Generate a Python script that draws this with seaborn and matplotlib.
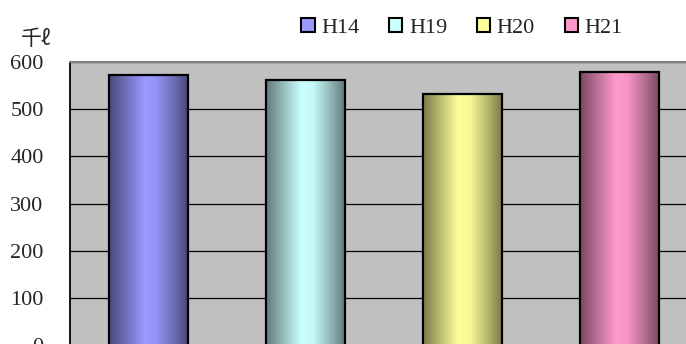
import numpy as np
import pandas as pd
import matplotlib
matplotlib.use("Agg")
import matplotlib.pyplot as plt
from matplotlib.patches import Patch
from matplotlib.colors import to_rgb
import seaborn as sns

# data
categories = ["H14", "H19", "H20", "H21"]
values = [572, 561, 533, 579]
bar_colors = ["#9999FF", "#CCFFFF", "#FFFF99", "#FF99CC"]
yticks = [0, 100, 200, 300, 400, 500, 600]
unit_label = "千ℓ"

sns.set_theme(style="white")
plt.rcParams["font.family"] = ["Liberation Serif", "Noto Sans CJK JP", "DejaVu Sans"]

fig = plt.figure(figsize=(6.86, 3.44), dpi=100)
ax = fig.add_axes([70 / 686, -1.2 / 344, 628 / 686, 283.2 / 344])
ax.set_facecolor("#C0C0C0")

df = pd.DataFrame({"cat": categories, "val": values})
sns.barplot(data=df, x="cat", y="val", hue="cat", palette=bar_colors,
            width=0.5, edgecolor="black", linewidth=1.6, legend=False,
            ax=ax, zorder=3)

ax.set_xlim(-0.5, 3.5)
ax.set_ylim(0, 600)
ax.set_yticks(yticks)
ax.set_yticklabels([str(t) for t in yticks], fontsize=16)
ax.tick_params(axis="y", direction="in", length=6, width=1.0, color="black", pad=19)
ax.set_xticks([])
ax.set_xlabel("")
ax.set_ylabel("")
ax.grid(axis="y", color="black", linewidth=0.9, zorder=1)
ax.set_axisbelow(True)

for s in ["right", "bottom"]:
    ax.spines[s].set_visible(False)
ax.spines["left"].set_color("black")
ax.spines["left"].set_linewidth(1.3)
ax.spines["top"].set_color("#808080")
ax.spines["top"].set_linewidth(1.5)

# cylinder-like horizontal shading inside each bar
tt = np.linspace(0, 1, 200)
shade = np.interp(tt, [0, 0.12, 0.45, 0.6, 0.85, 1.0],
                  [0.48, 0.62, 1.0, 0.97, 0.68, 0.48])
for patch, col in zip(ax.patches, bar_colors):
    rgb = np.array(to_rgb(col))
    img = (shade[:, None] * rgb[None, :])[None, :, :]
    x0, y0 = patch.get_x(), patch.get_y()
    w, h = patch.get_width(), patch.get_height()
    im = ax.imshow(img, extent=[x0, x0 + w, y0, y0 + h], aspect="auto",
                   zorder=3.5, interpolation="bilinear")
    im.set_clip_path(patch)
    patch.set_facecolor("none")
    patch.set_zorder(4)

ax.set_xlim(-0.5, 3.5)
ax.set_ylim(0, 600)

handles = [Patch(facecolor=c, edgecolor="black", linewidth=1.5) for c in bar_colors]
fig.legend(handles, categories, loc="center", bbox_to_anchor=(462 / 686, 1 - 28 / 344),
           ncol=4, frameon=False, fontsize=16, handlelength=0.6, handleheight=0.6,
           handletextpad=0.3, columnspacing=1.33)

fig.text(21 / 686, 1 - 39 / 344, unit_label, fontsize=15, va="center", ha="left",
         family=["Noto Sans CJK JP", "DejaVu Sans"])

fig.savefig("out.png", dpi=100)
